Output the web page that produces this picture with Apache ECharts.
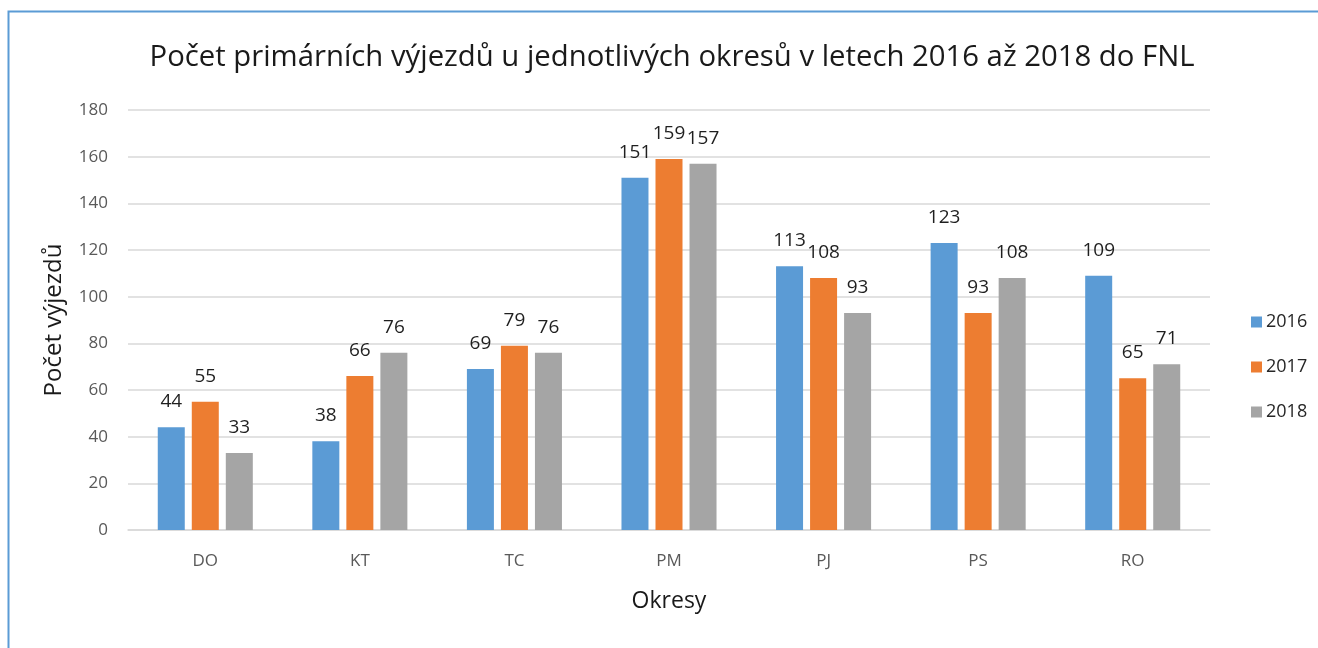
<!DOCTYPE html>
<html><head><meta charset="utf-8">
<script src="https://cdn.jsdelivr.net/npm/echarts@6/dist/echarts.min.js"></script>
<style>html,body{margin:0;padding:0;background:#fff}#c{width:1318px;height:648px}</style>
</head><body><div id="c"></div>
<script>
const categories = ['DO','KT','TC','PM','PJ','PS','RO'];
const seriesNames = ['2016','2017','2018'];
const v2016 = [44,38,69,151,113,123,109];
const v2017 = [55,66,79,159,108,93,65];
const v2018 = [33,76,76,157,93,108,71];
const colors = ['#5B9BD5','#ED7D31','#A5A5A5'];
const font = '"Open Sans", "Noto Sans", sans-serif';
const chart = echarts.init(document.getElementById('c'));
const mk = (name, data, color) => ({
  name, type:'bar', data, barWidth:27, barGap:'26%',
  itemStyle:{color},
  label:{show:true, position:'top', distance:16, color:'#1f1f1f', fontSize:19, fontFamily:font}
});
chart.setOption({
  animation:false,
  title:{text:'Počet primárních výjezdů u jednotlivých okresů v letech 2016 až 2018 do FNL',
    left:667, top:38, textAlign:'center',
    textStyle:{fontFamily:font, fontSize:29.3, fontWeight:'normal', color:'#1a1a1a'}},
  graphic:[{type:'rect', shape:{x:8.5,y:11.5,width:1330,height:700}, style:{fill:null, stroke:'#5B9BD5', lineWidth:2}, silent:true}],
  legend:{orient:'vertical', left:1246, top:308, itemGap:27, itemWidth:11, itemHeight:11, icon:'rect',
    textStyle:{fontFamily:font, fontSize:18, color:'#262626', padding:[0,0,0,-1]}, data:seriesNames},
  grid:{left:128, right:108, top:110, bottom:118},
  xAxis:{type:'category', data:categories, name:'Okresy', nameLocation:'middle', nameGap:60,
    nameTextStyle:{fontFamily:font, fontSize:23, color:'#1a1a1a'},
    axisLine:{lineStyle:{color:'#D9D9D9', width:1.5}}, axisTick:{show:false},
    axisLabel:{fontFamily:font, fontSize:17, color:'#595959', margin:23}},
  yAxis:{type:'value', min:0, max:180, interval:20, name:'Počet výjezdů', nameLocation:'middle', nameGap:62,
    nameTextStyle:{fontFamily:font, fontSize:24, color:'#1a1a1a'},
    axisLine:{show:false}, axisTick:{show:false},
    splitLine:{lineStyle:{color:'#D9D9D9', width:1.5}},
    axisLabel:{fontFamily:font, fontSize:17, color:'#595959', margin:20}},
  series:[mk(seriesNames[0], v2016, colors[0]), mk(seriesNames[1], v2017, colors[1]), mk(seriesNames[2], v2018, colors[2])]
});
</script></body></html>
